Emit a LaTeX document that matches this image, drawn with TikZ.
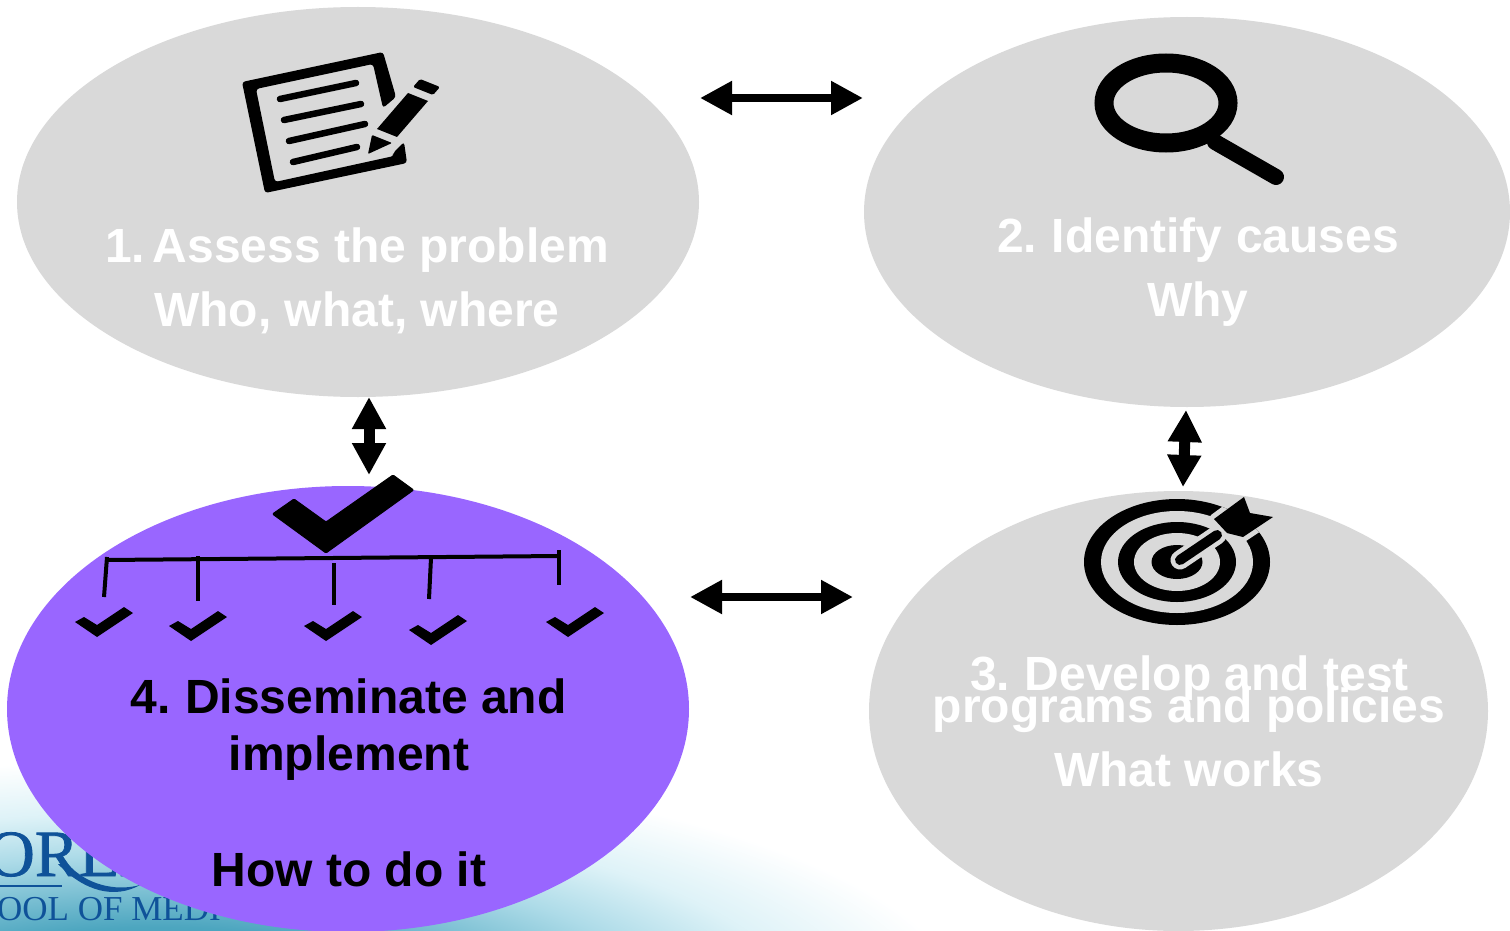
\documentclass[tikz,border=0pt]{standalone}
\usepackage{fontspec}
\setmainfont{Liberation Sans}
\newfontfamily\logofont[FakeBold=1.2]{Liberation Serif}
\newfontfamily\logothin{Liberation Serif}
\usetikzlibrary{arrows.meta,shapes.geometric}
\definecolor{bubble}{HTML}{D9D9D9}
\definecolor{violetfill}{HTML}{9966FF}
\definecolor{logoblue}{HTML}{0F5299}
\pgfdeclareradialshading{bgglow}{\pgfpoint{0bp}{0bp}}{%
  rgb(0bp)=(0.20,0.58,0.70);
  rgb(8bp)=(0.30,0.65,0.75);
  rgb(15bp)=(0.68,0.86,0.91);
  rgb(19bp)=(0.87,0.95,0.97);
  rgb(24bp)=(1,1,1);
  rgb(50bp)=(1,1,1)}
\tikzset{
  bubblenode/.style={ellipse,inner sep=0pt,outer sep=0pt,fill=#1},
  lightlabel/.style={anchor=base,text=white,inner sep=0pt,font=\fontsize{48}{48}\bfseries\selectfont},
  darklabel/.style={anchor=base,text=black,inner sep=0pt,font=\fontsize{48}{48}\bfseries\selectfont},
  biarrow/.style={draw=black,{Triangle[length=32pt,width=32pt]}-{Triangle[length=32pt,width=32pt]},line width=#1},
  noteline/.style={line width=6.5pt,line cap=round,black},
  treeline/.style={line width=4pt,black},
  bigtick/.style={fill=black,draw=black,line width=1pt,line join=round},
}
\begin{document}
\begin{tikzpicture}[x=1pt,y=-1pt]
\clip (0,0) rectangle (1510,931);
\fill[white] (0,0) rectangle (1510,931);
% background glow
\shade[shading=bgglow] (160,1010) ellipse [x radius=840,y radius=260];
% logo
\node[anchor=base west,inner sep=0pt,text=logoblue,font=\logofont\fontsize{66}{66}\selectfont] (logotop) at (-13,876) {OREH};
\node[anchor=base west,inner sep=0pt,text=logoblue,font=\logothin\fontsize{35}{35}\selectfont] (logobottom) at (-3,920) {OOL OF MEDI};
\draw[logoblue,line width=2pt] (0,886) -- (62,886);
\fill[logoblue] (58,864) .. controls (85,892) and (115,899) .. (140,885) .. controls (115,892) and (85,884) .. (68,864) -- cycle;
% bubbles
\node[bubblenode=bubble,minimum width=682pt,minimum height=390pt] (assess) at (358,202) {};
\node[bubblenode=bubble,minimum width=646pt,minimum height=390pt] (causes) at (1187,212) {};
\node[bubblenode=bubble,minimum width=619pt,minimum height=440pt] (develop) at (1178.5,711) {};
\node[bubblenode=violetfill,minimum width=682pt,minimum height=446pt] (spread) at (348,709) {};
% arrows
\coordinate (a1) at (700,98); \coordinate (a2) at (863,98);
\coordinate (b1) at (690,597); \coordinate (b2) at (853,597);
\coordinate (c1) at (369,397); \coordinate (c2) at (369,475);
\coordinate (d1) at (1186,410); \coordinate (d2) at (1183,487);
\draw[biarrow=8pt] (a1) -- (a2);
\draw[biarrow=8pt] (b1) -- (b2);
\draw[biarrow=11pt] (c1) -- (c2);
\draw[biarrow=11pt] (d1) -- (d2);
% note icon
\fill[black,rounded corners=3pt,even odd rule] (242,82) -- (383,52) -- (396,97) -- (383,108) -- (373,64) -- (256,89) -- (275,182) -- (394,156) -- (393,153) -- (404,142) -- (407,163) -- (265,193) -- cycle;
\draw[noteline] (280,99) -- (356,83);
\draw[noteline] (284,120) -- (361,104);
\draw[noteline] (289,141) -- (365,124);
\draw[noteline] (293,162) -- (357,147);
\fill[bubble] (372,128) -- (400,138) -- (388,156) -- (360,150) -- cycle;
\fill[black] (408,93) -- (428,101) -- (397,137) -- (377,129) -- cycle;
\fill[black,rounded corners=1.5pt] (420,79) -- (440,87) -- (433,95) -- (413,87) -- cycle;
\fill[black,rounded corners=1pt] (372,135) -- (392,143) -- (368,154) -- cycle;
% magnifier icon
\draw[black,line width=19pt] (1166,103) ellipse [x radius=62,y radius=40];
\draw[black,line width=16pt,line cap=round] (1215,142) -- (1276,177);
% target icon
\fill[black] (1177,562) ellipse [x radius=93,y radius=63];
\fill[bubble] (1177,562) ellipse [x radius=76,y radius=51];
\fill[black] (1177,562) ellipse [x radius=59,y radius=40];
\fill[bubble] (1177,562) ellipse [x radius=43,y radius=29];
\fill[black] (1177,562) ellipse [x radius=25.5,y radius=17];
\begin{scope}
\clip (1177,562) ellipse [x radius=93,y radius=63];
\draw[bubble,line width=19pt,line cap=round] (1180,560) -- (1217,535);
\fill[bubble,draw=bubble,line width=10pt,line join=round] (1214,519) -- (1244,497) -- (1250,513) -- (1273,517) -- (1243,537) -- (1227,533) -- cycle;
\end{scope}
\draw[black,line width=10pt,line cap=round] (1180,560) -- (1217,535);
\fill[black] (1214,519) -- (1244,497) -- (1250,513) -- (1273,517) -- (1243,537) -- (1227,533) -- cycle;
% tick icons
\fill[bigtick,rounded corners=1pt] (272.5,514) -- (294,499) -- (326,522) -- (393,475) -- (413.6,490) -- (326,553) -- cycle;
\draw[treeline] (106,560) -- (559,556);
\draw[treeline] (107,557) -- (104,597);
\draw[treeline] (198,556) -- (198,601);
\draw[treeline] (333.5,563) -- (333.5,605);
\draw[treeline] (431,558) -- (429,599);
\draw[treeline] (559,550) -- (559,585);
\foreach \dx/\dy in {0/0,94/4,229/4,334/8,471/0}{
  \fill[black,shift={(\dx,\dy)}] (75,622) -- (84,617) -- (97,625) -- (124,607) -- (133,613) -- (97,637) -- cycle;
}
% labels
\node[lightlabel] (t1a) at (357,262) {1.\kern-10pt{} Assess the problem};
\node[lightlabel] (t1b) at (357,326) {Who, what, where};
\node[lightlabel] (t2a) at (1198,252) {2.\kern-3pt{} Identify causes};
\node[lightlabel] (t2b) at (1198,316) {Why};
\node[lightlabel] (t3a) at (1189.5,690) {3.\kern-3pt{} Develop and test};
\node[lightlabel] (t3b) at (1189,722) {programs and policies};
\node[lightlabel] (t3c) at (1189,786) {What works};
\node[darklabel] (t4a) at (348.5,713) {4.\kern-3pt{} Disseminate and};
\node[darklabel] (t4b) at (349,770) {implement};
\node[darklabel] (t4c) at (349,886) {How to do it};
\end{tikzpicture}
\end{document}
